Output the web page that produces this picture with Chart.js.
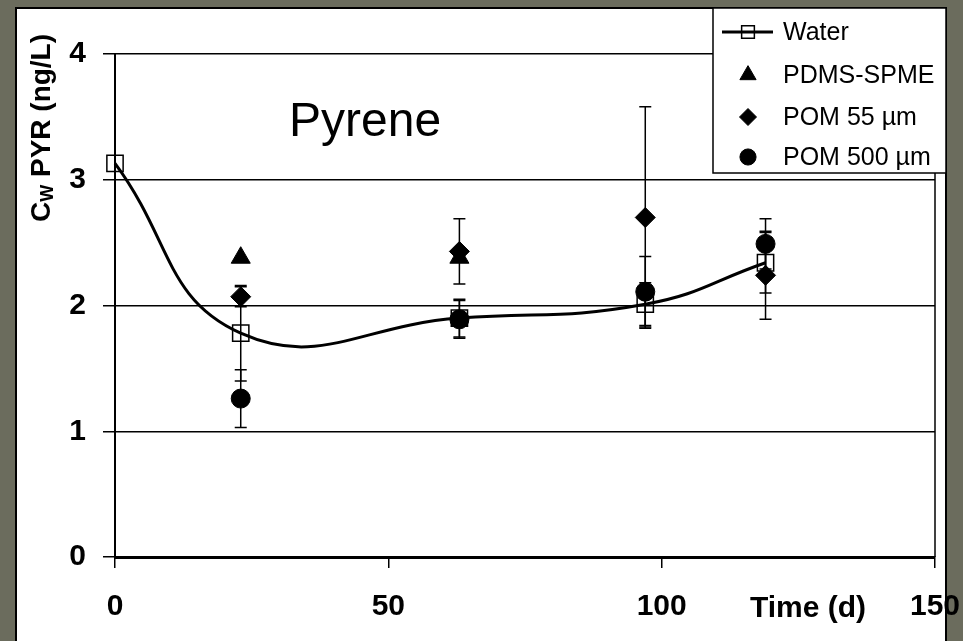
<!DOCTYPE html>
<html>
<head>
<meta charset="utf-8">
<script src="https://cdn.jsdelivr.net/npm/chart.js@4.4.0/dist/chart.umd.min.js"></script>
<style>
  html, body { margin: 0; padding: 0; background: #6b6c5d; }
  #wrap { width: 963px; height: 641px; }
</style>
</head>
<body>
<div id="wrap"><canvas id="pyrChart" width="963" height="641"></canvas></div>
<script>
// values (time in days, Cw in ng/L)
const waterDays = [0, 23, 63, 97, 119];
const waterVals = [3.13, 1.78, 1.90, 2.01, 2.34];
const waterErr = [0, 0.38, 0.15, 0.17, 0.24];

const pdmsDays = [23, 63];
const pdmsVals = [2.38, 2.38];

const pom55Days = [23, 63, 97, 119];
const pom55Vals = [2.07, 2.43, 2.70, 2.24];
const pom55Err = [0.08, 0.26, 0.88, 0.35];

const pom500Days = [23, 63, 97, 119];
const pom500Vals = [1.26, 1.89, 2.11, 2.49];
const pom500Err = [0.23, 0.15, 0.28, 0.20];

const seriesNames = ['Water', 'PDMS-SPME', 'POM 55 µm', 'POM 500 µm'];
const xTickStep = 50;
const yTickStep = 1;

const toPoints = (xs, ys) => xs.map((x, i) => ({ x: x, y: ys[i] }));

const markers = [
  { pointStyle: 'rect', radius: 11.5, borderWidth: 1.5, fill: false },
  { pointStyle: 'triangle', radius: 11, borderWidth: 1, fill: true },
  { pointStyle: 'rectRot', radius: 10, borderWidth: 1, fill: true },
  { pointStyle: 'circle', radius: 9.5, borderWidth: 1, fill: true }
];

// grey frame + white panel behind the chart
const panelPlugin = {
  id: 'panel',
  beforeDraw(chart) {
    const ctx = chart.ctx;
    ctx.save();
    ctx.fillStyle = '#6b6c5d';
    ctx.fillRect(0, 0, 963, 641);
    ctx.fillStyle = '#ffffff';
    ctx.fillRect(16, 8, 930, 641);
    ctx.strokeStyle = '#000';
    ctx.lineWidth = 2;
    ctx.beginPath();
    ctx.moveTo(16, 641);
    ctx.lineTo(16, 8);
    ctx.lineTo(946, 8);
    ctx.lineTo(946, 641);
    ctx.stroke();
    ctx.restore();
  }
};

const errorBarPlugin = {
  id: 'errorBars',
  beforeDatasetsDraw(chart) {
    const ctx = chart.ctx;
    const xs = chart.scales.x, ys = chart.scales.y;
    ctx.save();
    ctx.strokeStyle = '#000';
    ctx.lineWidth = 1.5;
    chart.data.datasets.forEach(ds => {
      if (!ds.errors) return;
      ds.data.forEach((p, i) => {
        const e = ds.errors[i];
        if (!e) return;
        const px = xs.getPixelForValue(p.x);
        const top = ys.getPixelForValue(p.y + e);
        const bot = ys.getPixelForValue(p.y - e);
        ctx.beginPath();
        ctx.moveTo(px, top); ctx.lineTo(px, bot);
        ctx.moveTo(px - 6, top); ctx.lineTo(px + 6, top);
        ctx.moveTo(px - 6, bot); ctx.lineTo(px + 6, bot);
        ctx.stroke();
      });
    });
    ctx.restore();
  }
};

const decorPlugin = {
  id: 'decor',
  afterDraw(chart) {
    const ctx = chart.ctx;
    const area = chart.chartArea;
    ctx.save();
    // right plot border
    ctx.strokeStyle = '#000';
    ctx.lineWidth = 1.5;
    ctx.beginPath();
    ctx.moveTo(area.right, area.top);
    ctx.lineTo(area.right, area.bottom);
    ctx.stroke();

    // compound name
    ctx.fillStyle = '#000';
    ctx.font = '48px "Liberation Sans", Arial, sans-serif';
    ctx.textBaseline = 'alphabetic';
    ctx.fillText('Pyrene', 289, 136);

    // x axis title, sits in the tick label row
    ctx.font = 'bold 30px "Liberation Sans", Arial, sans-serif';
    ctx.textAlign = 'center';
    ctx.fillText('Time (d)', 808, 617);

    // y axis title with subscript W
    ctx.translate(50, 128);
    ctx.rotate(-Math.PI / 2);
    const big = 'bold 28px "Liberation Sans", Arial, sans-serif';
    const small = 'bold 18px "Liberation Sans", Arial, sans-serif';
    ctx.font = big;
    const wC = ctx.measureText('C').width;
    const rest = ' PYR (ng/L)';
    const wRest = ctx.measureText(rest).width;
    ctx.font = small;
    const wW = ctx.measureText('W').width;
    let sx = -(wC + wW + wRest) / 2;
    ctx.textAlign = 'left';
    ctx.font = big;
    ctx.fillText('C', sx, 0);
    sx += wC;
    ctx.font = small;
    ctx.fillText('W', sx, 3);
    sx += wW;
    ctx.font = big;
    ctx.fillText(rest, sx, 0);
    ctx.restore();

    // legend box
    ctx.save();
    ctx.fillStyle = '#fff';
    ctx.fillRect(713, 8, 233, 165);
    ctx.strokeStyle = '#000';
    ctx.lineWidth = 1.5;
    ctx.strokeRect(713, 8, 233, 165);
    const rowY = [32, 75, 117, 157];
    ctx.font = '25px "Liberation Sans", Arial, sans-serif';
    ctx.textBaseline = 'middle';
    seriesNames.forEach((name, i) => {
      ctx.strokeStyle = '#000';
      ctx.fillStyle = markers[i].fill ? '#000' : 'rgba(0,0,0,0)';
      if (i === 0) {
        ctx.lineWidth = 3;
        ctx.beginPath();
        ctx.moveTo(722, rowY[i]); ctx.lineTo(773, rowY[i]);
        ctx.stroke();
      }
      ctx.lineWidth = markers[i].borderWidth;
      Chart.helpers.drawPoint(ctx, {
        pointStyle: markers[i].pointStyle,
        radius: i === 0 ? 9 : markers[i].radius * 0.85,
        rotation: 0,
        borderWidth: markers[i].borderWidth
      }, 748, rowY[i]);
      ctx.fillStyle = '#000';
      ctx.fillText(name, 783, rowY[i] + 1);
    });
    ctx.restore();
  }
};

const ctx = document.getElementById('pyrChart').getContext('2d');

new Chart(ctx, {
  type: 'scatter',
  data: {
    datasets: [
      {
        label: seriesNames[0],
        data: toPoints(waterDays, waterVals),
        errors: waterErr,
        showLine: true,
        tension: 0.45,
        clip: false,
        borderColor: '#000',
        borderWidth: 3,
        pointStyle: markers[0].pointStyle,
        pointRadius: markers[0].radius,
        pointBorderWidth: markers[0].borderWidth,
        pointBorderColor: '#000',
        pointBackgroundColor: 'rgba(0,0,0,0)'
      },
      {
        label: seriesNames[1],
        data: toPoints(pdmsDays, pdmsVals),
        pointStyle: markers[1].pointStyle,
        pointRadius: markers[1].radius,
        pointBorderColor: '#000',
        pointBackgroundColor: '#000'
      },
      {
        label: seriesNames[2],
        data: toPoints(pom55Days, pom55Vals),
        errors: pom55Err,
        pointStyle: markers[2].pointStyle,
        pointRadius: markers[2].radius,
        pointBorderColor: '#000',
        pointBackgroundColor: '#000'
      },
      {
        label: seriesNames[3],
        data: toPoints(pom500Days, pom500Vals),
        errors: pom500Err,
        pointStyle: markers[3].pointStyle,
        pointRadius: markers[3].radius,
        pointBorderColor: '#000',
        pointBackgroundColor: '#000'
      }
    ]
  },
  options: {
    responsive: false,
    animation: false,
    layout: { padding: { top: 54, right: 28, left: 0, bottom: 0 } },
    plugins: {
      legend: { display: false },
      tooltip: { enabled: false }
    },
    scales: {
      x: {
        type: 'linear',
        min: 0,
        max: 150,
        ticks: {
          stepSize: xTickStep,
          color: '#000',
          padding: 21,
          font: { family: '"Liberation Sans", Arial, sans-serif', size: 30, weight: 'bold' }
        },
        grid: { drawOnChartArea: false, drawTicks: true, tickLength: 11, color: '#000', lineWidth: 1.5 },
        border: { color: '#000', width: 3 },
        afterFit(scale) {
          scale.height = 84;
          scale.paddingLeft = 0;
          scale.paddingRight = 0;
        }
      },
      y: {
        min: 0,
        max: 4,
        ticks: {
          stepSize: yTickStep,
          color: '#000',
          padding: 17,
          font: { family: '"Liberation Sans", Arial, sans-serif', size: 30, weight: 'bold' }
        },
        grid: { color: '#000', lineWidth: 1.5, tickLength: 12 },
        border: { color: '#000', width: 2 },
        afterFit(scale) {
          scale.width = 115;
          scale.paddingTop = 0;
          scale.paddingBottom = 0;
        }
      }
    }
  },
  plugins: [panelPlugin, errorBarPlugin, decorPlugin]
});
</script>
</body>
</html>
